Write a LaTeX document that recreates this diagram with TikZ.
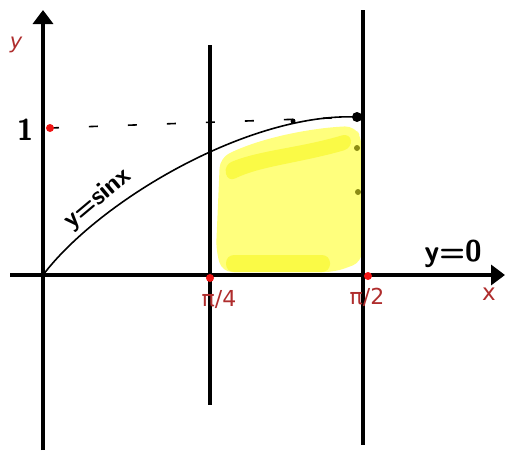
\documentclass[tikz,border=0pt]{standalone}
\usepackage{fontspec}
\newfontfamily\djv{DejaVu Sans}
\usetikzlibrary{arrows.meta}
\definecolor{lblred}{RGB}{175,45,45}
\definecolor{dotred}{RGB}{240,20,20}
\definecolor{hl}{RGB}{255,255,125}
\definecolor{hlb}{RGB}{250,250,70}
\definecolor{olive2}{RGB}{140,140,20}
\tikzset{
  axis/.style={line width=4.5pt,-{Triangle[length=14pt,width=20pt]}},
  vline/.style={line width=3.5pt},
  redlbl/.style={text=lblred,font=\djv\fontsize{22}{22}\selectfont},
  hand/.style={font=\sffamily\bfseries\fontsize{30}{30}\selectfont},
  rdot/.style={circle,fill=dotred,inner sep=0pt,minimum size=8pt}
}
\begin{document}
\begin{tikzpicture}[x=1pt,y=-1pt]
\useasboundingbox (0,0) rectangle (509,455);
% highlighted region
\fill[hl,rounded corners=10pt] (220,158) .. controls (260,138) and (310,128) .. (355,126) -- (362,140) -- (362,262) -- (335,272) -- (222,272) -- (216,250) -- cycle;
\fill[hlb,rounded corners=8pt] (224,165) .. controls (260,150) and (300,148) .. (350,133) -- (352,148) .. controls (300,163) and (260,166) .. (228,182) -- cycle;
\fill[hlb,rounded corners=8pt] (226,255) rectangle (330,272);
\fill[olive2] (357,148) circle (3pt);
\fill[olive2] (358,192) circle (3pt);
% axes
\coordinate (O) at (43,275);
\coordinate (ytop) at (43,10);
\coordinate (ybot) at (43,450);
\coordinate (xleft) at (10,275);
\coordinate (xright) at (505,275);
\draw[axis] (ybot) -- (ytop);
\draw[axis] (xleft) -- (xright);
% vertical lines
\coordinate (a1) at (210,45);
\coordinate (a2) at (210,405);
\coordinate (b1) at (363,10);
\coordinate (b2) at (363,445);
\draw[vline] (a1) -- (a2);
\draw[vline] (b1) -- (b2);
% curve
\coordinate (top) at (358,117);
\draw[line width=1.6pt] (O) .. controls (100,200) and (250,112) .. (top);
% dashed
\coordinate (one) at (50,128);
\draw[line width=1.6pt,dash pattern=on 9pt off 30pt] (one) -- (top);
\fill (293,121) circle (2.5pt);
\fill (357,117) circle (5pt);
% dots
\node[rdot] (d1) at (one) {};
\node[rdot] (d2) at (210,278) {};
\node[rdot] (d3) at (368,276) {};
% labels
\node[redlbl,font=\djv\itshape\fontsize{21}{21}\selectfont] (ylbl) at (16,45) {y};
\node[hand] (onelbl) at (25,130) {1};
\node[redlbl] (p4) at (219,299) {π/4};
\node[redlbl] (p2) at (367,297) {π/2};
\node[redlbl,font=\djv\fontsize{23}{23}\selectfont] (xlbl) at (489,294) {x};
\node[hand] (y0) at (453,254) {y=0};
\node[hand,rotate=40,font=\sffamily\bfseries\fontsize{26}{26}\selectfont] (sinlbl) at (98,199) {y=sinx};
\end{tikzpicture}
\end{document}
